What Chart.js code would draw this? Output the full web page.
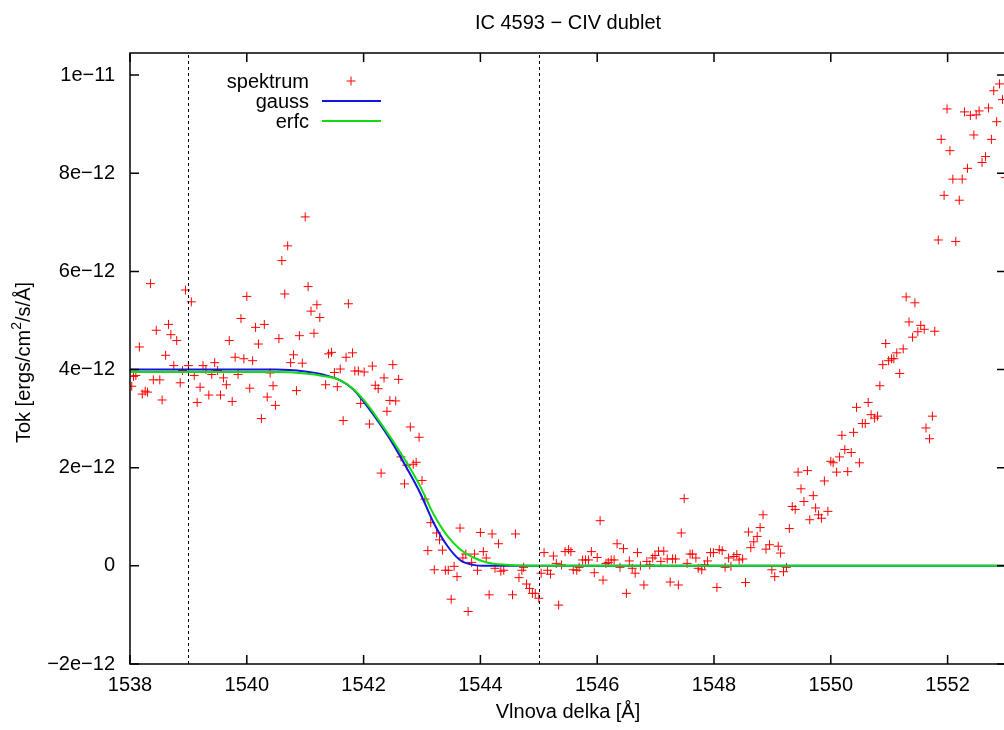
<!DOCTYPE html>
<html>
<head>
<meta charset="utf-8">
<title>IC 4593 - CIV dublet</title>
<script src="https://cdn.jsdelivr.net/npm/chart.js@4.4.0/dist/chart.umd.min.js"></script>
<style>
    html, body { margin: 0; padding: 0; overflow: hidden; background: #fff; width: 1004px; height: 730px; }
    #wrap { width: 1004px; height: 730px; overflow: hidden; position: relative; }
    #civChart { position: absolute; left: 0; top: 0; }
</style>
</head>
<body>
<div id="wrap"><canvas id="civChart" width="1010" height="730"></canvas></div>
<script>
// vlnova delka [A] a tok [1e-12 ergs/cm2/s/A] - namerene spektrum
const spekX = [
    1538.03, 1538.06, 1538.10, 1538.16, 1538.21, 1538.26, 1538.30, 1538.35, 1538.40, 1538.45,
    1538.51, 1538.55, 1538.61, 1538.66, 1538.70, 1538.75, 1538.80, 1538.86, 1538.90, 1538.95,
    1539.00, 1539.05, 1539.10, 1539.15, 1539.20, 1539.25, 1539.30, 1539.35, 1539.40, 1539.45,
    1539.50, 1539.55, 1539.60, 1539.65, 1539.70, 1539.75, 1539.80, 1539.85, 1539.90, 1539.95,
    1540.00, 1540.05, 1540.10, 1540.15, 1540.20, 1540.25, 1540.30, 1540.35, 1540.40, 1540.45,
    1540.49, 1540.55, 1540.60, 1540.65, 1540.70, 1540.75, 1540.80, 1540.85, 1540.90, 1540.95,
    1541.00, 1541.05, 1541.10, 1541.15, 1541.20, 1541.25, 1541.35, 1541.40, 1541.45, 1541.50,
    1541.55, 1541.60, 1541.65, 1541.70, 1541.74, 1541.81, 1541.85, 1541.91, 1541.95, 1542.01,
    1542.10, 1542.15, 1542.20, 1542.25, 1542.30, 1542.35, 1542.40, 1542.45, 1542.50, 1542.55,
    1542.60, 1542.64, 1542.70, 1542.74, 1542.80, 1542.85, 1542.90, 1542.95, 1543.00, 1543.05,
    1543.10, 1543.15, 1543.21, 1543.25, 1543.30, 1543.35, 1543.40, 1543.45, 1543.50, 1543.55,
    1543.60, 1543.65, 1543.70, 1543.75, 1543.79, 1543.85, 1543.90, 1543.95, 1544.00, 1544.05,
    1544.10, 1544.15, 1544.20, 1544.25, 1544.31, 1544.35, 1544.40, 1544.55, 1544.60, 1544.66,
    1544.71, 1544.74, 1544.79, 1544.84, 1544.89, 1544.94, 1545.00, 1545.04, 1545.09, 1545.15,
    1545.20, 1545.25, 1545.30, 1545.34, 1545.39, 1545.45, 1545.51, 1545.55, 1545.59, 1545.65,
    1545.69, 1545.75, 1545.80, 1545.85, 1545.90, 1545.95, 1546.00, 1546.05, 1546.10, 1546.15,
    1546.19, 1546.24, 1546.29, 1546.34, 1546.39, 1546.45, 1546.50, 1546.55, 1546.60, 1546.65,
    1546.69, 1546.74, 1546.80, 1546.85, 1546.90, 1546.95, 1546.99, 1547.05, 1547.09, 1547.14,
    1547.20, 1547.25, 1547.29, 1547.34, 1547.39, 1547.44, 1547.49, 1547.54, 1547.59, 1547.63,
    1547.69, 1547.73, 1547.79, 1547.84, 1547.89, 1547.94, 1547.99, 1548.05, 1548.09, 1548.14,
    1548.19, 1548.25, 1548.29, 1548.34, 1548.39, 1548.43, 1548.49, 1548.54, 1548.59, 1548.63,
    1548.68, 1548.74, 1548.79, 1548.84, 1548.89, 1548.95, 1548.99, 1549.04, 1549.10, 1549.14,
    1549.19, 1549.24, 1549.29, 1549.34, 1549.39, 1549.44, 1549.49, 1549.54, 1549.60, 1549.64,
    1549.70, 1549.74, 1549.79, 1549.84, 1549.89, 1549.95, 1550.00, 1550.04, 1550.10, 1550.15,
    1550.19, 1550.24, 1550.29, 1550.35, 1550.39, 1550.44, 1550.49, 1550.54, 1550.59, 1550.64,
    1550.69, 1550.75, 1550.80, 1550.84, 1550.89, 1550.94, 1550.99, 1551.04, 1551.08, 1551.13,
    1551.18, 1551.24, 1551.29, 1551.34, 1551.40, 1551.44, 1551.49, 1551.54, 1551.60, 1551.63,
    1551.69, 1551.74, 1551.78, 1551.84, 1551.89, 1551.94, 1551.99, 1552.04, 1552.09, 1552.14,
    1552.20, 1552.25, 1552.29, 1552.34, 1552.39, 1552.45, 1552.49, 1552.54, 1552.59, 1552.65,
    1552.70, 1552.75, 1552.79, 1552.84, 1552.89, 1552.94, 1552.99
];
const spekY = [
    3.66, 3.86, 3.88, 4.46, 3.50, 3.56, 3.54, 5.75, 3.79, 4.80,
    3.79, 3.38, 4.29, 4.92, 4.71, 4.08, 4.59, 3.73, 3.98, 5.62,
    4.08, 5.38, 3.88, 3.33, 3.64, 4.08, 4.00, 3.48, 3.90, 4.14,
    3.98, 3.48, 3.83, 3.69, 4.59, 3.35, 4.25, 3.90, 5.04, 4.22,
    5.49, 3.62, 4.18, 4.86, 4.52, 3.00, 4.92, 3.44, 3.93, 3.67,
    3.27, 4.63, 6.22, 5.54, 6.52, 4.14, 4.30, 3.57, 4.69, 4.13,
    7.11, 5.69, 5.19, 4.74, 5.32, 5.06, 3.69, 4.32, 4.35, 3.94,
    3.65, 4.01, 2.96, 4.25, 5.34, 4.34, 3.97, 3.97, 3.31, 3.95,
    2.89, 4.07, 3.68, 3.61, 1.89, 3.83, 3.15, 3.37, 4.10, 3.36,
    3.80, 2.22, 1.67, 2.05, 2.83, 2.07, 2.11, 2.62, 1.74, 1.36,
    0.31, 0.88, -0.08, 0.67, 0.53, 0.32, -0.09, -0.09, -0.68, -0.01,
    -0.22, 0.77, 0.16, 0.24, -0.93, 0.07, 0.24, -0.09, 0.68, 0.29,
    0.16, -0.59, 0.65, -0.05, 0.45, -0.11, -0.09, -0.59, 0.65, -0.24,
    -0.09, -0.03, -0.37, -0.46, -0.56, -0.56, -0.66, -0.15, 0.27, -0.09,
    -0.17, 0.20, 0.05, -0.80, 0.02, 0.29, 0.33, 0.29, -0.08, -0.09,
    -0.03, 0.12, 0.12, 0.12, 0.29, -0.14, 0.17, 0.92, -0.29, 0.05,
    0.07, 0.12, 0.12, 0.45, -0.03, 0.35, -0.56, 0.10, -0.05, -0.15,
    0.27, 0.00, -0.39, 0.09, 0.02, 0.16, 0.21, 0.30, 0.09, 0.30,
    0.14, -0.33, 0.14, 0.14, -0.39, 0.67, 1.37, 0.05, 0.24, 0.24,
    0.16, -0.05, -0.08, 0.02, 0.10, 0.27, 0.27, -0.44, 0.33, 0.31,
    -0.03, 0.16, -0.01, 0.19, 0.23, 0.12, 0.14, -0.34, 0.69, 0.37,
    0.49, 0.60, 0.78, 1.04, 0.34, 0.43, -0.08, -0.22, 0.40, 0.26,
    -0.12, -0.03, 0.76, 1.21, 1.15, 1.91, 1.57, 1.31, 1.94, 0.94,
    1.43, 1.18, 1.04, 0.97, 1.73, 1.11, 2.13, 2.10, 1.91, 2.22,
    2.66, 2.37, 1.92, 2.31, 2.72, 3.23, 2.10, 2.90, 2.90, 3.33,
    3.08, 3.01, 3.05, 3.67, 4.10, 4.53, 4.18, 4.22, 4.22, 4.34,
    3.92, 4.42, 5.48, 4.97, 4.66, 5.36, 4.77, 4.90, 4.82, 2.81,
    2.59, 3.05, 4.78, 6.64, 8.69, 7.55, 9.31, 8.46, 7.88, 6.61,
    7.45, 7.88, 9.25, 8.10, 9.18, 8.78, 9.19, 9.27, 8.22, 8.34,
    9.33, 8.69, 9.68, 9.05, 9.82, 9.50, 7.91
];

// fity: gauss a erfc
const gaussX = [1538.0, 1540.5, 1541.0, 1541.3, 1541.6, 1541.83, 1542.05, 1542.28, 1542.51,
    1542.74, 1542.97, 1543.19, 1543.42, 1543.65, 1543.88, 1544.1, 1553.0];
const gaussY = [4.00, 4.00, 3.96, 3.90, 3.78, 3.59, 3.27, 2.89, 2.47,
    1.99, 1.48, 0.90, 0.43, 0.12, 0.02, 0.00, 0.00];
const erfcX = [1538.0, 1540.5, 1541.0, 1541.3, 1541.6, 1541.83, 1542.05, 1542.28, 1542.51,
    1542.74, 1542.97, 1543.19, 1543.42, 1543.65, 1543.88, 1544.11, 1544.45, 1544.8, 1553.0];
const erfcY = [3.95, 3.95, 3.92, 3.87, 3.78, 3.60, 3.31, 2.93, 2.53,
    2.10, 1.62, 1.07, 0.63, 0.34, 0.17, 0.07, 0.02, 0.00, 0.00];

// osy
const xTicks = [1538, 1540, 1542, 1544, 1546, 1548, 1550, 1552];
const xTickLabels = ['1538', '1540', '1542', '1544', '1546', '1548', '1550', '1552'];
const yTicks = [-2, 0, 2, 4, 6, 8, 10];
const yTickLabels = ['\u22122e\u221212', '0', '2e\u221212', '4e\u221212', '6e\u221212', '8e\u221212', '1e\u221211'];
const dubletLines = [1539, 1545];

const FONT = '"Liberation Sans", Arial, Helvetica, sans-serif';
const toPoints = (xs, ys) => xs.map((x, i) => ({ x, y: ys[i] }));

const gnuplotFrame = {
    id: 'gnuplotFrame',
    afterDraw(chart) {
        const { ctx, chartArea: a, scales } = chart;
        const xs = scales.x, ys = scales.y;
        const tick = 9;
        ctx.save();

        // svisle carkovane cary dubletu
        ctx.strokeStyle = '#000';
        ctx.lineWidth = 1;
        ctx.setLineDash([3, 3]);
        dubletLines.forEach(v => {
            const px = Math.round(xs.getPixelForValue(v)) + 0.5;
            ctx.beginPath();
            ctx.moveTo(px, a.bottom);
            ctx.lineTo(px, a.top);
            ctx.stroke();
        });
        ctx.setLineDash([]);

        // ramecek a ticky dovnitr
        ctx.lineWidth = 1.5;
        ctx.strokeRect(a.left, a.top, a.right - a.left, a.bottom - a.top);
        ctx.beginPath();
        xTicks.forEach(v => {
            const px = xs.getPixelForValue(v);
            ctx.moveTo(px, a.bottom); ctx.lineTo(px, a.bottom - tick);
            ctx.moveTo(px, a.top); ctx.lineTo(px, a.top + tick);
        });
        yTicks.forEach(v => {
            const py = ys.getPixelForValue(v);
            ctx.moveTo(a.left, py); ctx.lineTo(a.left + tick, py);
            ctx.moveTo(a.right, py); ctx.lineTo(a.right - tick, py);
        });
        ctx.stroke();

        // titulek a popisky os
        ctx.fillStyle = '#000';
        ctx.font = '20px ' + FONT;
        ctx.textAlign = 'center';
        ctx.textBaseline = 'middle';
        const cx = 568;
        ctx.fillText('IC 4593 \u2212 CIV dublet', cx, 23);
        ctx.fillText('Vlnova delka [\u00c5]', cx, 712);

        ctx.save();
        ctx.translate(24, (a.top + a.bottom) / 2 + 4);
        ctx.rotate(-Math.PI / 2);
        ctx.textAlign = 'left';
        const p1 = 'Tok [ergs/cm', p2 = '2', p3 = '/s/\u00c5]';
        ctx.font = '20px ' + FONT;
        const w1 = ctx.measureText(p1).width, w3 = ctx.measureText(p3).width;
        ctx.font = '14px ' + FONT;
        const w2 = ctx.measureText(p2).width;
        let x0 = -(w1 + w2 + w3) / 2;
        ctx.font = '20px ' + FONT;
        ctx.fillText(p1, x0, 0);
        ctx.font = '14px ' + FONT;
        ctx.fillText(p2, x0 + w1, -7);
        ctx.font = '20px ' + FONT;
        ctx.fillText(p3, x0 + w1 + w2, 0);
        ctx.restore();

        // legenda
        const ds = chart.data.datasets;
        const rows = [81, 101, 121];
        ctx.textAlign = 'right';
        ctx.font = '20px ' + FONT;
        ds.forEach((d, i) => {
            const y = rows[i];
            ctx.fillStyle = '#000';
            ctx.fillText(d.label, 309, y + 1);
            if (d.showLine === false) {
                ctx.strokeStyle = d.pointBorderColor;
                ctx.lineWidth = 1;
                ctx.beginPath();
                ctx.moveTo(351 - 4.5, y); ctx.lineTo(351 + 4.5, y);
                ctx.moveTo(351, y - 4.5); ctx.lineTo(351, y + 4.5);
                ctx.stroke();
            } else {
                ctx.strokeStyle = d.borderColor;
                ctx.lineWidth = d.borderWidth;
                ctx.beginPath();
                ctx.moveTo(322, y); ctx.lineTo(381, y);
                ctx.stroke();
            }
        });
        ctx.restore();
    }
};

new Chart(document.getElementById('civChart').getContext('2d'), {
    type: 'scatter',
    data: {
        datasets: [{
            label: 'spektrum',
            data: toPoints(spekX, spekY),
            showLine: false,
            pointStyle: 'cross',
            pointRadius: 4.5,
            pointBorderWidth: 1,
            pointBorderColor: '#ff0000',
            pointBackgroundColor: '#ff0000',
            order: 3
        }, {
            label: 'gauss',
            data: toPoints(gaussX, gaussY),
            showLine: true,
            borderColor: '#1414e0',
            borderWidth: 2,
            pointRadius: 0,
            cubicInterpolationMode: 'monotone',
            order: 2
        }, {
            label: 'erfc',
            data: toPoints(erfcX, erfcY),
            showLine: true,
            borderColor: '#10dd10',
            borderWidth: 2,
            pointRadius: 0,
            cubicInterpolationMode: 'monotone',
            order: 1
        }]
    },
    options: {
        responsive: false,
        animation: false,
        layout: { autoPadding: false, padding: { top: 53, right: 4, left: 0, bottom: 0 } },
        plugins: {
            legend: { display: false },
            tooltip: { enabled: false }
        },
        scales: {
            x: {
                type: 'linear',
                min: 1538,
                max: 1553,
                grid: { display: false, drawTicks: false },
                border: { display: false },
                afterBuildTicks: s => { s.ticks = xTicks.map(v => ({ value: v })); },
                afterFit: s => { s.height = 66; },
                ticks: {
                    color: '#000',
                    font: { family: FONT, size: 20 },
                    padding: 9,
                    maxRotation: 0,
                    callback: (v, i) => xTickLabels[i]
                }
            },
            y: {
                type: 'linear',
                min: -2,
                max: 10.45,
                grid: { display: false, drawTicks: false },
                border: { display: false },
                afterBuildTicks: s => { s.ticks = yTicks.map(v => ({ value: v })); },
                afterFit: s => { s.width = 130; },
                ticks: {
                    color: '#000',
                    font: { family: FONT, size: 20 },
                    padding: 15,
                    callback: (v, i) => yTickLabels[i]
                }
            }
        }
    },
    plugins: [gnuplotFrame]
});
</script>
</body>
</html>
